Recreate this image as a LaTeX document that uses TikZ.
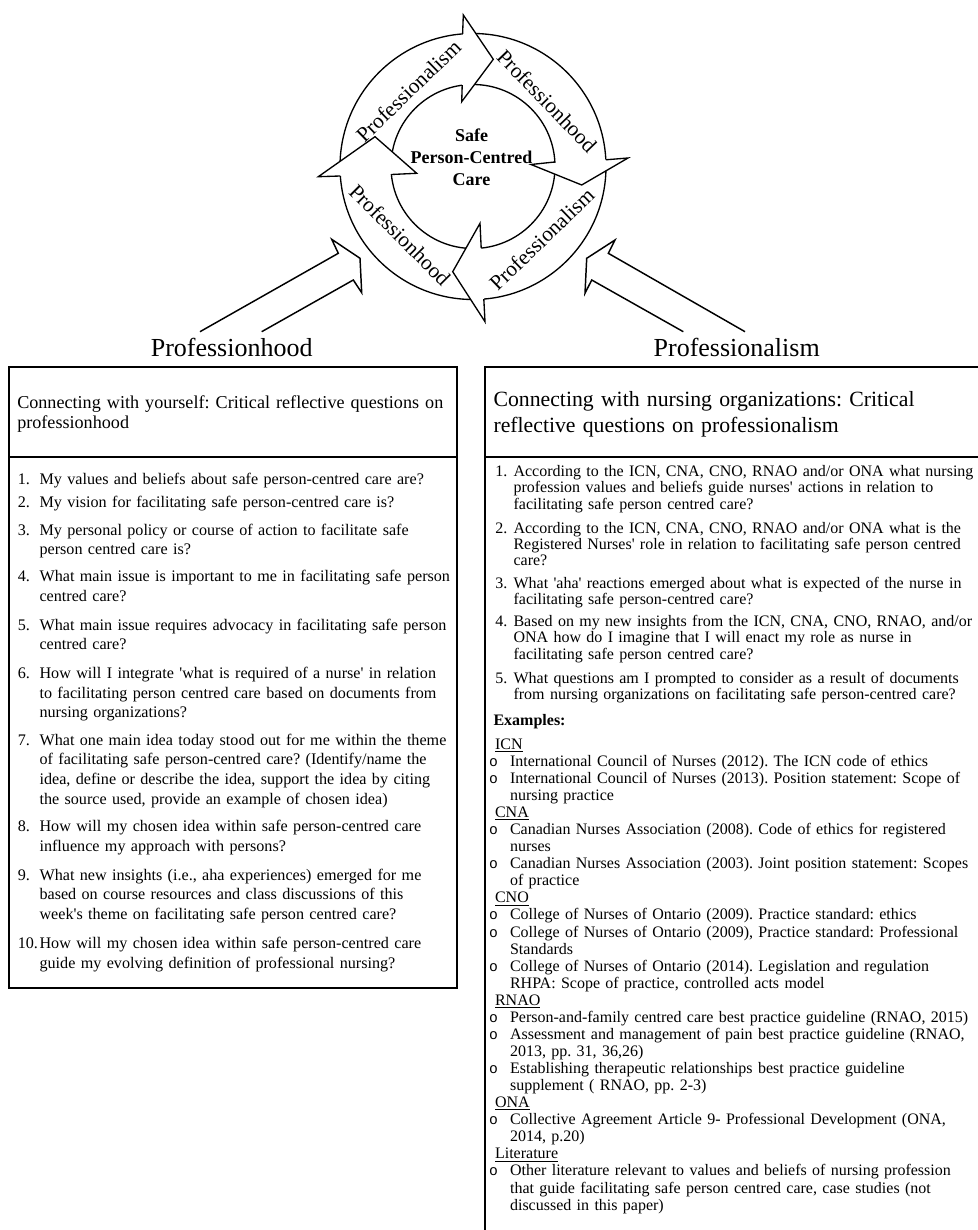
\documentclass[tikz,border=0pt]{standalone}
\usepackage{fontspec}
\setmainfont{Liberation Serif}
\newfontfamily\bulfont{Liberation Mono}
\newcommand\q{\textquotesingle}
\newcommand\bul{\makebox[15.75pt][l]{\bulfont\fontsize{11}{11}\selectfont o}}
\newcommand\ind{\hspace*{15.75pt}}
\newcommand\hd[1]{\hspace*{4.5pt}\underline{#1}}
\newcommand\lfont{\fontsize{12.1}{14.8}\selectfont}
\newcommand\rfont{\fontsize{12.0}{12.2}\selectfont}
\newcommand\efont{\fontsize{12.0}{12.8}\selectfont}
\begin{document}
\frenchspacing
\begin{tikzpicture}[x=0.75pt,y=-0.75pt,
  txt/.style={inner sep=0pt, anchor=base west, text width=#1, align=left},
  txt/.default=340pt,
  lbody/.style={font=\lfont},
  rbody/.style={font=\rfont},
  exbody/.style={font=\efont},
  boxline/.style={line width=1.5pt},
  ringline/.style={line width=1pt},
  ringtxt/.style={inner sep=0pt, font=\fontsize{16}{16}\selectfont},
  bigarrow/.style={line width=1.1pt, line join=miter}]
\useasboundingbox (0,0) rectangle (977,1230);

% ---------- ring ----------
\coordinate (C) at (473,166.5);
\draw[ringline] (C) circle [radius=133];
\draw[ringline] (C) circle [radius=82];

% heads
\coordinate (tO) at (463.3,15);   \coordinate (tT) at (493.3,59.3);  \coordinate (tI) at (461.7,101.7);
\coordinate (tPo) at (462.6,33.9); \coordinate (tPi) at (462.2,85.2);
\coordinate (rO) at (628,158);     \coordinate (rT) at (581.7,185);   \coordinate (rI) at (531,164.5);
\coordinate (rPo) at (605.8,159.8); \coordinate (rPi) at (554.7,162);
\coordinate (bO) at (485,321.7);   \coordinate (bT) at (452.7,271.7); \coordinate (bI) at (480,223.3);
\coordinate (bPo) at (483.8,299);  \coordinate (bPi) at (481.2,248.1);
\coordinate (lO) at (318.3,176.7); \coordinate (lT) at (375,136.7);   \coordinate (lI) at (416.7,173.3);
\coordinate (lPo) at (340.3,176); \coordinate (lPi) at (391.4,174.5);
\foreach \h in {t,r,b,l}{
  \fill[white] (\h O) -- (\h T) -- (\h I) -- cycle;
  \draw[ringline, line join=miter] (\h Po) -- (\h O) -- (\h T) -- (\h I) -- (\h Pi);
}

\node[ringtxt, rotate=44]  (rtl) at (408.4,90.9) {Professionalism};
\node[ringtxt, rotate=-46] (rtr) at (547,101) {Professionhood};
\node[ringtxt, rotate=44]  (rbr) at (541.7,239) {Professionalism};
\node[ringtxt, rotate=-45] (rbl) at (400,235) {Professionhood};

\node[inner sep=0pt, anchor=base, text width=150pt, align=center,
      font=\fontsize{13.5}{16.25}\selectfont\bfseries] (core) at (471.5,141.7)
  {Safe\\Person-Centred\\Care};

% ---------- big arrows ----------
\draw[bigarrow] (200,331.7) -- (338.3,253.3) -- (331.7,239.3) -- (360,258.3)
  -- (361.7,292.7) -- (353.3,280) -- (261.7,331.7);
\draw[bigarrow] (745,331.7) -- (608.3,253.3) -- (615,240) -- (586.7,258.3)
  -- (585,293.3) -- (591.7,280) -- (683.3,331.7);

\node[inner sep=0pt, anchor=base, font=\fontsize{19.5}{19.5}\selectfont] (tleft) at (231.7,356.7) {Professionhood};
\node[inner sep=0pt, anchor=base, font=\fontsize{19.5}{19.5}\selectfont] (tright) at (736.7,356.7) {Professionalism};

% ---------- left box ----------
\draw[boxline] (9.3,366.7) rectangle (457.3,988.3);
\draw[boxline] (9.3,457) -- (457.3,457);
\node[txt, font=\fontsize{13.6}{15}\selectfont] (lh) at (17,408.3)
  {Connecting with yourself: Critical reflective questions on\\professionhood};

\foreach \n/\yy in {1/484.5,2/507.3,3/535,4/581.7,5/630,6/678.3,7/745,8/831.7,9/880,10/948.3}{
  \node[txt=20pt, lbody] (ln\n) at (17.5,\yy) {\n.};
}
\node[txt, lbody] (l1) at (39.3,484.5) {My values and beliefs about safe person-centred care are?};
\node[txt, lbody] (l2) at (39.3,507.3) {My vision for facilitating safe person-centred care is?};
\node[txt, lbody] (l3) at (39.3,535) {My personal policy or course of action to facilitate safe\\person centred care is?};
\node[txt, lbody] (l4) at (39.3,581.7) {What main issue is important to me in facilitating safe person\\centred care?};
\node[txt, lbody] (l5) at (39.3,630) {What main issue requires advocacy in facilitating safe person\\centred care?};
\node[txt, lbody] (l6) at (39.3,678.3) {How will I integrate \q what is required of a nurse\q\ in relation\\to facilitating person centred care based on documents from\\nursing organizations?};
\node[txt, lbody] (l7) at (39.3,745) {What one main idea today stood out for me within the theme\\of facilitating safe person-centred care? (Identify/name the\\idea, define or describe the idea, support the idea by citing\\the source used, provide an example of chosen idea)};
\node[txt, lbody] (l8) at (39.3,831.7) {How will my chosen idea within safe person-centred care\\influence my approach with persons?};
\node[txt, lbody] (l9) at (39.3,880) {What new insights (i.e., aha experiences) emerged for me\\based on course resources and class discussions of this\\week\q s theme on facilitating safe person centred care?};
\node[txt, lbody] (l10) at (39.3,948.3) {How will my chosen idea within safe person-centred care\\guide my evolving definition of professional nursing?};

% ---------- right box ----------
\draw[boxline] (990,366.7) -- (485,366.7) -- (485,1240);
\draw[boxline] (485,457) -- (990,457);
\node[txt=380pt, font=\fontsize{16.3}{19.5}\selectfont] (rh) at (493.3,406.7)
  {Connecting with nursing organizations: Critical\\reflective questions on professionalism};

\foreach \n/\yy in {1/476.7,2/533.3,3/588.3,4/626.7,5/683.3}{
  \node[txt=20pt, rbody] (rn\n) at (495,\yy) {\n.};
}
\node[txt=370pt, rbody] (r1) at (513.3,476.7) {According to the ICN, CNA, CNO, RNAO and/or ONA what nursing\\profession values and beliefs guide nurses\q\ actions in relation to\\facilitating safe person centred care?};
\node[txt=370pt, rbody] (r2) at (513.3,533.3) {According to the ICN, CNA, CNO, RNAO and/or ONA what is the\\Registered Nurses\q\ role in relation to facilitating safe person centred\\care?};
\node[txt=370pt, rbody] (r3) at (513.3,588.3) {What \q aha\q\ reactions emerged about what is expected of the nurse in\\facilitating safe person-centred care?};
\node[txt=370pt, rbody] (r4) at (513.3,626.7) {Based on my new insights from the ICN, CNA, CNO, RNAO, and/or\\ONA how do I imagine that I will enact my role as nurse in\\facilitating safe person centred care?};
\node[txt=370pt, rbody] (r5) at (513.3,683.3) {What questions am I prompted to consider as a result of documents\\from nursing organizations on facilitating safe person-centred care?};

\node[txt, font=\rfont\bfseries] (ex) at (493.3,725) {Examples:};

\node[txt=380pt, exbody] (exl) at (488.8,749.3) {%
\hd{ICN}\\
\bul International Council of Nurses (2012). The ICN code of ethics\\
\bul International Council of Nurses (2013). Position statement: Scope of\\
\ind nursing practice\\
\hd{CNA}\\
\bul Canadian Nurses Association (2008). Code of ethics for registered\\
\ind nurses\\
\bul Canadian Nurses Association (2003). Joint position statement: Scopes\\
\ind of practice\\
\hd{CNO}\\
\bul College of Nurses of Ontario (2009). Practice standard: ethics\\
\bul College of Nurses of Ontario (2009), Practice standard: Professional\\
\ind Standards\\
\bul College of Nurses of Ontario (2014). Legislation and regulation\\
\ind RHPA: Scope of practice, controlled acts model\\
\hd{RNAO}\\
\bul Person-and-family centred care best practice guideline (RNAO, 2015)\\
\bul Assessment and management of pain best practice guideline (RNAO,\\
\ind 2013, pp. 31, 36,26)\\
\bul Establishing therapeutic relationships best practice guideline\\
\ind supplement ( RNAO, pp. 2-3)\\
\hd{ONA}\\
\bul Collective Agreement Article 9- Professional Development (ONA,\\
\ind 2014, p.20)\\
\hd{Literature}\\
\bul Other literature relevant to values and beliefs of nursing profession\\
\ind that guide facilitating safe person centred care, case studies (not\\
\ind discussed in this paper)};
\end{tikzpicture}
\end{document}
